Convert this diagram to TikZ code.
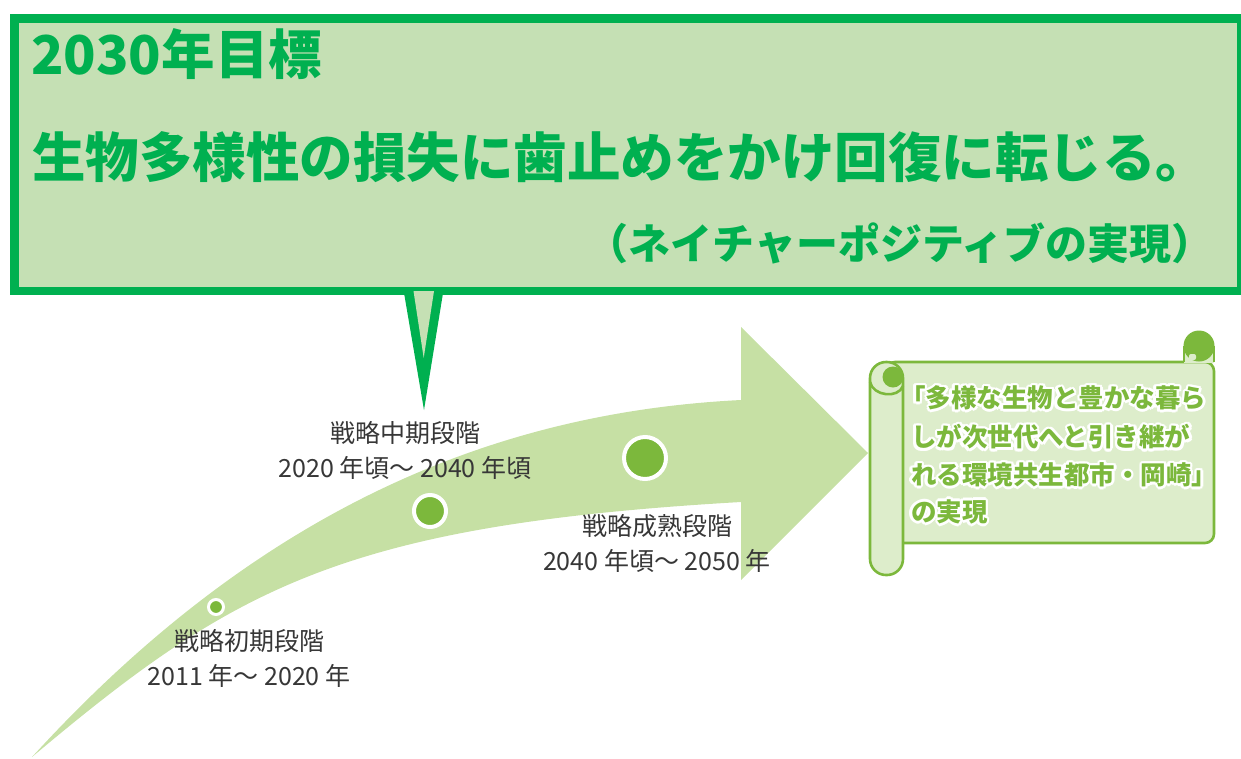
\documentclass[tikz,border=0pt]{standalone}
\usepackage{fontspec}
\setmainfont{Noto Sans CJK JP}
\usetikzlibrary{calc}
\definecolor{boxgreen}{RGB}{0,176,80}
\definecolor{boxfill}{RGB}{197,224,180}
\definecolor{arrowfill}{RGB}{198,224,164}
\definecolor{dotgreen}{RGB}{124,184,60}
\definecolor{scrollfill}{RGB}{221,237,203}
\definecolor{labelgray}{RGB}{55,55,55}
\newcommand\halotxt[1]{\leavevmode\makebox[0pt][l]{\color{white}\foreach \hdeg in {0,30,...,330}{\makebox[0pt][l]{\hspace*{\fpeval{2.6*cosd(\hdeg)}pt}\raisebox{\fpeval{2.6*sind(\hdeg)}pt}{#1}}}}#1}
\tikzset{
  callbox/.style={draw=boxgreen, fill=boxfill, line width=8.5pt, rectangle, inner sep=0pt},
  titletext/.style={text=boxgreen, font=\fontsize{53.5}{60}\selectfont\bfseries, inner sep=0pt},
  subtitletext/.style={text=boxgreen, font=\fontsize{42}{50}\selectfont\bfseries, inner sep=0pt},
  stagetext/.style={text=labelgray, font=\fontsize{25}{35}\selectfont, align=center, inner sep=0pt},
  dot/.style={circle, fill=dotgreen, draw=white, inner sep=0pt},
  scrollline/.style={draw=dotgreen, line width=2.6pt},
  scrolltext/.style={text=dotgreen, font=\fontsize{25.5}{30}\selectfont\bfseries, inner sep=0pt, anchor=west},
}
\begin{document}
\begin{tikzpicture}[x=1pt,y=-1pt]
\useasboundingbox (0,0) rectangle (1241,758);
% ---- big curved arrow ----
\path[fill=arrowfill] (32,757) .. controls (262,505) and (500,412) .. (741,400)
  -- (741,327) -- (868,453) -- (741,580) -- (741,502)
  .. controls (341,525) and (232,589) .. (32,757) -- cycle;
% ---- stage dots ----
\node[dot, line width=3pt, minimum size=15pt] (d1) at (216,607) {};
\node[dot, line width=4pt, minimum size=32pt] (d2) at (430,511) {};
\node[dot, line width=4pt, minimum size=42pt] (d3) at (645,458) {};
% ---- stage labels ----
\node[stagetext] (s1) at (249,658) {戦略初期段階\\2011 年～ 2020 年};
\node[stagetext] (s2) at (405,450) {戦略中期段階\\2020 年頃～ 2040 年頃};
\node[stagetext] (s3) at (657,543) {戦略成熟段階\\2040 年頃～ 2050 年};
% ---- callout box ----
\node[callbox, minimum width=1226.5pt, minimum height=272.5pt, anchor=north west] (goalbox) at (10.25,14.25) {};
\coordinate (pl) at (403,287);
\coordinate (pr) at (444,287);
\coordinate (ptip) at (424,410);
\fill[boxgreen] (pl) -- (pr) -- (ptip) -- cycle;
\fill[boxfill] (413.5,291) -- (434,291) -- (423.7,358) -- cycle;
\node[titletext, anchor=west] (t1) at (31,54) {2030年目標};
\node[titletext, anchor=west] (t2) at (32,157) {生物多様性の損失に歯止めをかけ回復に転じる。};
\node[subtitletext, anchor=east] (t3) at (1214,243) {（ネイチャーポジティブの実現）};
% ---- scroll ----
\draw[scrollline, fill=scrollfill, rounded corners=9pt] (886,362) rectangle (1214,543);
% right top curl
\path[fill=scrollfill] (1184,346) rectangle (1214,363);
\draw[scrollline] (1184,346) -- (1184,362);
\draw[scrollline] (1214,346) -- (1214,362);
\node[circle, fill=dotgreen, draw=dotgreen, line width=1pt, minimum size=30pt, inner sep=0pt] (rcurl) at (1199,346) {};
\path[fill=scrollfill, rounded corners=2pt] (1189,354) rectangle (1196,360);
% left roll
\draw[scrollline, fill=scrollfill, rounded corners=16pt] (903,392) -- (903,575) -- (870,575) -- (870,362) -- (903,362) -- (903,392);
\node[circle, fill=dotgreen, minimum size=21pt, inner sep=0pt] (lcurl) at (893,377) {};
\draw[scrollline] (870,382) .. controls (873,396) and (898,399) .. (903,386);
% scroll text
\node[scrolltext] (g1) at (900,398) {\halotxt{「多様な生物と豊かな暮ら}};
\node[scrolltext] (g2) at (911,437) {\halotxt{しが次世代へと引き継が}};
\node[scrolltext] (g3) at (911,475) {\halotxt{れる環境共生都市・岡崎」}};
\node[scrolltext] (g4) at (911,512) {\halotxt{の実現}};
\end{tikzpicture}
\end{document}
